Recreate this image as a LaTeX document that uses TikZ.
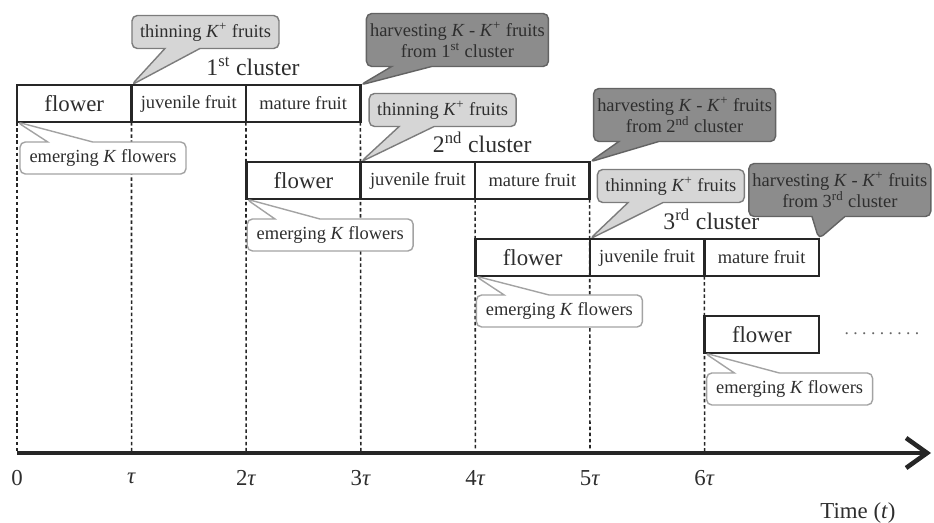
\documentclass[tikz,border=0pt]{standalone}
\usepackage{fontspec}
\setmainfont{Liberation Serif}
\usepackage{tikz}
\usetikzlibrary{positioning,calc,shapes.callouts,arrows.meta}
\definecolor{fcInk}{HTML}{2E2E2E}
\definecolor{fcLight}{HTML}{D6D6D6}
\definecolor{fcDark}{HTML}{8C8C8C}
\definecolor{fcEdge}{HTML}{7C7C7C}
\tikzset{
    fcCell/.style={
        rectangle,
        draw=black!85,
        line width=1.5pt,
        fill=white,
        minimum width=2.29cm,
        minimum height=0.74cm,
        inner sep=0pt,
        outer sep=0pt,
        text=fcInk,
        font=\fontsize{10.5}{12}\selectfont
    },
    fcBubble/.style={
        rectangle callout,
        rounded corners=3pt,
        line width=0.8pt,
        inner sep=1pt,
        text=fcInk,
        align=center,
        font=\fontsize{10.5}{12}\selectfont
    },
    % Callout Variants
    fcThin/.style={fcBubble, fill=fcLight, draw=fcEdge, minimum width=2.94cm, minimum height=0.66cm, callout pointer width=0.7cm},
    fcHarvest/.style={fcBubble, fill=fcDark, draw=fcEdge!80!black, minimum width=3.64cm, minimum height=1.06cm, callout pointer width=0.8cm},
    fcEmerge/.style={fcBubble, fill=white, draw=fcEdge!70, minimum width=3.32cm, minimum height=0.64cm, callout pointer width=0.9cm},
    % Axis
    fcGuide/.style={dash pattern=on 2pt off 1.5pt, line width=0.9pt, black!85},
    fcAxis/.style={line width=2.6pt, black!85, -{Straight Barb[length=0.42cm, width=0.6cm]}},
    fcTick/.style={font=\fontsize{13}{15}\selectfont, text=fcInk}
}

\begin{document}
\begin{tikzpicture}[
    x=0.02cm, y=-0.02cm,
    fcFlowerCell/.style={fcCell, font=\fontsize{13}{15}\selectfont},
    fcCluster/.style={anchor=base, font=\fontsize{13.5}{15}\selectfont, text=fcInk}
]
    \useasboundingbox (0,0) rectangle (934,523);

    \coordinate (t0) at (17,453);
    \coordinate (t1) at (131.6,453);
    \coordinate (t2) at (246.2,453);
    \coordinate (t3) at (360.8,453);
    \coordinate (t4) at (475.4,453);
    \coordinate (t5) at (590,453);
    \coordinate (t6) at (704.6,453);
    \coordinate (tEnd) at (931,453);

    % clusters
    \node[fcFlowerCell, anchor=north west] (fl1) at (17,85) {flower};
    \node[fcCell, right=0pt of fl1] (jv1) {juvenile fruit};
    \node[fcCell, right=0pt of jv1] (mt1) {mature fruit};

    \node[fcFlowerCell, anchor=north west] (fl2) at (246.2,162) {flower};
    \node[fcCell, right=0pt of fl2] (jv2) {juvenile fruit};
    \node[fcCell, right=0pt of jv2] (mt2) {mature fruit};

    \node[fcFlowerCell, anchor=north west] (fl3) at (475.4,239) {flower};
    \node[fcCell, right=0pt of fl3] (jv3) {juvenile fruit};
    \node[fcCell, right=0pt of jv3] (mt3) {mature fruit};

    \node[fcFlowerCell, anchor=north west] (fl4) at (704.6,316) {flower};
    \node[fcTick, anchor=base, font=\fontsize{10}{12}\selectfont, text=black!60] (more) at (882,335) {\frenchspacing . . . . . . . . .};

    \node[fcCluster] (cl1) at ($(jv1.north east)+(7,-9)$) {1\textsuperscript{st} cluster};
    \node[fcCluster] (cl2) at ($(jv2.north east)+(7,-9)$) {2\textsuperscript{nd} cluster};
    \node[fcCluster] (cl3) at ($(jv3.north east)+(7,-9)$) {3\textsuperscript{rd} cluster};

    \draw[fcGuide] (fl1.south west) -- (t0);
    \draw[fcGuide] (jv1.south west) -- (t1);
    \draw[fcGuide] (mt1.south west) -- (t2);
    \draw[fcGuide] (mt1.south east) -- (t3);
    \draw[fcGuide] (mt2.south west) -- (t4);
    \draw[fcGuide] (mt2.south east) -- (t5);
    \draw[fcGuide] (mt3.south west) -- (t6);

    % callouts
    \node[fcThin, callout absolute pointer={(jv1.north west)}] (thin1) at ($(jv1.north west)+(74,-53)$) {thinning \textit{K}\textsuperscript{+} fruits};
    \node[fcThin, callout absolute pointer={(jv2.north west)}] (thin2) at ($(jv2.north west)+(82,-52)$) {thinning \textit{K}\textsuperscript{+} fruits};
    \node[fcThin, callout absolute pointer={(jv3.north west)}] (thin3) at ($(jv3.north west)+(81,-53)$) {thinning \textit{K}\textsuperscript{+} fruits};

    \node[fcHarvest, callout absolute pointer={(mt1.north east)}] (harv1) at ($(mt1.north east)+(97,-45)$) {harvesting \textit{K} - \textit{K}\textsuperscript{+} fruits\\from 1\textsuperscript{st} cluster};
    \node[fcHarvest, callout absolute pointer={(mt2.north east)}] (harv2) at ($(mt2.north east)+(95,-47)$) {harvesting \textit{K} - \textit{K}\textsuperscript{+} fruits\\from 2\textsuperscript{nd} cluster};
    \node[fcHarvest, callout absolute pointer={(mt3.north east)}, callout pointer width=0.66cm] (harv3) at ($(mt3.north east)+(21,-49)$) {harvesting \textit{K} - \textit{K}\textsuperscript{+} fruits\\from 3\textsuperscript{rd} cluster};

    \node[fcEmerge, callout absolute pointer={(fl1.south west)}] (emer1) at ($(fl1.south west)+(86,36)$) {emerging \textit{K} flowers};
    \node[fcEmerge, callout absolute pointer={(fl2.south west)}] (emer2) at ($(fl2.south west)+(84,36)$) {emerging \textit{K} flowers};
    \node[fcEmerge, callout absolute pointer={(fl3.south west)}] (emer3) at ($(fl3.south west)+(84,35)$) {emerging \textit{K} flowers};
    \node[fcEmerge, callout absolute pointer={(fl4.south west)}] (emer4) at ($(fl4.south west)+(85,36)$) {emerging \textit{K} flowers};

    % time axis
    \draw[fcAxis] (t0) -- (tEnd);
    \node[fcTick] (l0) at ($(t0)+(0,25)$) {0};
    \node[fcTick] (l1) at ($(t1)+(0,25)$) {\textit{τ}};
    \node[fcTick] (l2) at ($(t2)+(0,25)$) {2\textit{τ}};
    \node[fcTick] (l3) at ($(t3)+(0,25)$) {3\textit{τ}};
    \node[fcTick] (l4) at ($(t4)+(0,25)$) {4\textit{τ}};
    \node[fcTick] (l5) at ($(t5)+(0,25)$) {5\textit{τ}};
    \node[fcTick] (l6) at ($(t6)+(0,25)$) {6\textit{τ}};
    \node[fcTick] (timeLab) at (858,513) {Time (\textit{t})};
\end{tikzpicture}
\end{document}
